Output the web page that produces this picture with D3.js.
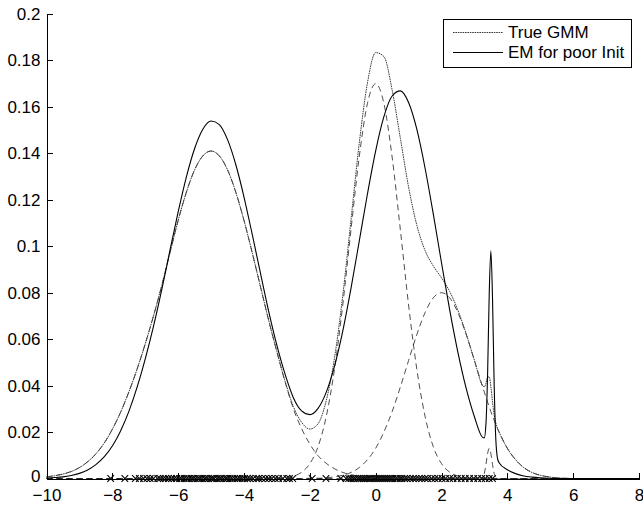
<!DOCTYPE html>
<html>
<head>
<meta charset="utf-8">
<script src="https://cdn.jsdelivr.net/npm/d3@7"></script>
<style>
  html, body { margin: 0; padding: 0; background: #fff; }
  svg { display: block; font-family: "Liberation Sans", Arial, Helvetica, sans-serif; }
  .axis path, .axis line { stroke: #000; stroke-width: 1; shape-rendering: crispEdges; }
  .axis text { font-size: 17px; fill: #000; }
</style>
</head>
<body>
<svg id="chart" width="643" height="505"></svg>
<script>
// shared x grid (rows of 10)
var xGrid = [
  -10, -9.75, -9.5, -9.25, -9, -8.75, -8.5, -8.25, -8, -7.75,
  -7.5, -7.25, -7, -6.75, -6.5, -6.25, -6, -5.75, -5.5, -5.25,
  -5, -4.75, -4.5, -4.25, -4, -3.75, -3.5, -3.25, -3, -2.75,
  -2.5, -2.25, -2, -1.75, -1.5, -1.25, -1, -0.75, -0.5, -0.25,
  0, 0.25, 0.5, 0.75, 1, 1.25, 1.5, 1.75, 2, 2.25,
  2.5, 2.75, 3, 3.25, 3.3, 3.35, 3.4, 3.45, 3.5, 3.55,
  3.6, 3.65, 3.7, 3.75, 4, 4.25, 4.5, 4.75, 5, 5.25,
  5.5, 5.75, 6, 6.25, 6.5, 6.75, 7, 7.25, 7.5, 7.75,
  8
];

// true GMM density
var trueGmm = [
  .0007, .0012, .0019, .0030, .0047, .0072, .0106, .0152, .0212, .0285,
  .0372, .0470, .0580, .0700, .0830, .0972, .1111, .1233, .1329, .1389,
  .1410, .1389, .1329, .1233, .1111, .0972, .0826, .0681, .0546, .0418,
  .0310, .0242, .0213, .0236, .0336, .0520, .0787, .1113, .1442, .1703,
  .1834, .1817, .1673, .1465, .1255, .1091, .0982, .0915, .0864, .0805,
  .0724, .0623, .0509, .0400, .0394, .0410, .0436, .0438, .0395, .0329,
  .0273, .0239, .0216, .0200, .0130, .0081, .0047, .0026, .0014, .0007,
  .0003, .0001, 0, 0, 0, 0, 0, 0, 0, 0,
  0
];

// EM fit from the poor initialisation
var emGmm = [
  .0002, .0004, .0007, .0013, .0022, .0037, .0060, .0093, .0140, .0205,
  .0288, .0392, .0515, .0655, .0812, .0982, .1148, .1299, .1421, .1504,
  .1539, .1524, .1459, .1352, .1212, .1051, .0884, .0720, .0573, .0448,
  .0348, .0291, .0275, .0302, .0372, .0484, .0635, .0819, .1021, .1225,
  .1411, .1558, .1647, .1669, .1619, .1504, .1337, .1139, .0929, .0725,
  .0542, .0388, .0266, .0177, .0175, .0234, .0447, .0796, .0980, .0775,
  .0404, .0169, .0088, .0068, .0038, .0021, .0011, .0006, .0003, .0001,
  0, 0, 0, 0, 0, 0, 0, 0, 0, 0,
  0
];

// weighted components of the true GMM (dashed)
var compA = [
  .0007, .0012, .0019, .0030, .0047, .0072, .0106, .0152, .0212, .0285,
  .0372, .0470, .0580, .0700, .0830, .0972, .1111, .1233, .1329, .1389,
  .1410, .1389, .1329, .1233, .1111, .0972, .0826, .0681, .0545, .0415,
  .0300, .0215, .0148, .0098, .0065, .0042, .0026, .0016, .0010, .0006,
  .0004, .0002, .0001, 0, 0, 0, 0, 0, 0, 0,
  0, 0, 0, 0, 0, 0, 0, 0, 0, 0,
  0, 0, 0, 0, 0, 0, 0, 0, 0, 0,
  0, 0, 0, 0, 0, 0, 0, 0, 0, 0,
  0
];
var compB = [
  0, 0, 0, 0, 0, 0, 0, 0, 0, 0,
  0, 0, 0, 0, 0, 0, 0, 0, 0, 0,
  0, 0, 0, 0, 0, 0, 0, 0, .0001, .0003,
  .0010, .0027, .0064, .0137, .0268, .0471, .0747, .1071, .1384, .1615,
  .1700, .1615, .1384, .1071, .0747, .0471, .0268, .0137, .0064, .0027,
  .0010, .0003, .0001, 0, 0, 0, 0, 0, 0, 0,
  0, 0, 0, 0, 0, 0, 0, 0, 0, 0,
  0, 0, 0, 0, 0, 0, 0, 0, 0, 0,
  0
];
var compC = [
  0, 0, 0, 0, 0, 0, 0, 0, 0, 0,
  0, 0, 0, 0, 0, 0, 0, 0, 0, 0,
  0, 0, 0, 0, 0, 0, 0, 0, 0, 0,
  0, 0, .0001, .0001, .0003, .0007, .0014, .0026, .0047, .0081,
  .0130, .0200, .0288, .0394, .0508, .0620, .0714, .0778, .0800, .0778,
  .0714, .0620, .0508, .0394, .0372, .0350, .0329, .0308, .0288, .0269,
  .0251, .0233, .0216, .0200, .0130, .0081, .0047, .0026, .0014, .0007,
  .0003, .0001, 0, 0, 0, 0, 0, 0, 0, 0,
  0
];
var compD = [
  0, 0, 0, 0, 0, 0, 0, 0, 0, 0,
  0, 0, 0, 0, 0, 0, 0, 0, 0, 0,
  0, 0, 0, 0, 0, 0, 0, 0, 0, 0,
  0, 0, 0, 0, 0, 0, 0, 0, 0, 0,
  0, 0, 0, 0, 0, 0, 0, 0, 0, 0,
  0, 0, 0, .0006, .0022, .0060, .0107, .0130, .0107, .0060,
  .0022, .0006, 0, 0, 0, 0, 0, 0, 0, 0,
  0, 0, 0, 0, 0, 0, 0, 0, 0, 0,
  0
];

// observed data points (x markers on the axis)
var obsX = [
  -8.05, -7.62, -7.3, -7.18, -7.05, -6.95, -6.85, -6.75, -6.62, -6.55,
  -6.45, -6.38, -6.3, -6.2, -6.12, -6.05, -5.95, -5.9, -5.82, -5.75,
  -5.68, -5.6, -5.55, -5.48, -5.4, -5.35, -5.28, -5.2, -5.15, -5.08,
  -5.0, -4.95, -4.9, -4.82, -4.75, -4.7, -4.62, -4.55, -4.5, -4.42,
  -4.35, -4.28, -4.2, -4.12, -4.05, -3.98, -3.9, -3.82, -3.72, -3.62,
  -3.55, -3.45, -3.35, -3.25, -3.15, -3.05, -2.95, -2.82, -2.7, -2.62,
  -2.52, -1.93, -1.51, -1.06, -0.9, -0.82, -0.75, -0.68, -0.62, -0.55,
  -0.5, -0.44, -0.38, -0.32, -0.26, -0.2, -0.15, -0.08, -0.02, 0.04,
  0.1, 0.16, 0.22, 0.28, 0.34, 0.4, 0.46, 0.52, 0.6, 0.66,
  0.74, 0.8, 0.88, 0.95, 1.05, 1.14, 1.22, 1.32, 1.4, 1.5,
  1.58, 1.7, 1.8, 1.9, 2.02, 2.12, 2.25, 2.35, 2.48, 2.6,
  2.72, 2.85, 2.98, 3.1, 3.22, 3.33, 3.45, 3.55
];

var xTicks = [-10, -8, -6, -4, -2, 0, 2, 4, 6, 8];
var xTickLabels = ['\u221210', '\u22128', '\u22126', '\u22124', '\u22122', '0', '2', '4', '6', '8'];
var yTicks = [0, 0.02, 0.04, 0.06, 0.08, 0.1, 0.12, 0.14, 0.16, 0.18, 0.2];
var yTickLabels = ['0', '0.02', '0.04', '0.06', '0.08', '0.1', '0.12', '0.14', '0.16', '0.18', '0.2'];
var legendLabels = ['True GMM', 'EM for poor Init'];

var
  svg = d3.select('#chart'),
  xScale = d3.scaleLinear().domain([-10, 8]).range([46.5, 639]),
  yScale = d3.scaleLinear().domain([0, 0.2]).range([478.5, 14])
  ;

function series(vals){
  return vals.map(function(v, i){ return [xGrid[i], v]; });
}

var line = d3.line()
  .x(function(d){ return xScale(d[0]); })
  .y(function(d){ return yScale(d[1]); })
  .curve(d3.curveMonotoneX);

var styles = {
  comp: {stroke: '#222', width: 0.8, dash: '6,4'},
  truth: {stroke: '#3a3a3a', width: 1, dash: '1.6,0.8'},
  em: {stroke: '#000', width: 1.1, dash: null}
};

// data markers
var mk = svg.append('g').attr('class', 'markers');
mk.selectAll('path')
  .data(obsX)
  .enter().append('path')
  .attr('d', function(d){
    var cx = xScale(d), cy = yScale(0), r = 3.3;
    return 'M' + (cx - r) + ',' + (cy - r) + 'L' + (cx + r) + ',' + (cy + r) +
           'M' + (cx - r) + ',' + (cy + r) + 'L' + (cx + r) + ',' + (cy - r);
  })
  .attr('stroke', '#000')
  .attr('stroke-width', 1.1)
  .attr('fill', 'none');

// dashed components
svg.append('g').attr('class', 'components')
  .selectAll('path')
  .data([compA, compB, compC, compD])
  .enter().append('path')
  .attr('d', function(d){ return line(series(d)); })
  .attr('fill', 'none')
  .attr('stroke', styles.comp.stroke)
  .attr('stroke-width', styles.comp.width)
  .attr('stroke-dasharray', styles.comp.dash);

svg.append('path')
  .attr('d', line(series(trueGmm)))
  .attr('fill', 'none')
  .attr('stroke', styles.truth.stroke)
  .attr('stroke-width', styles.truth.width)
  .attr('stroke-dasharray', styles.truth.dash);

svg.append('path')
  .attr('d', line(series(emGmm)))
  .attr('fill', 'none')
  .attr('stroke', styles.em.stroke)
  .attr('stroke-width', styles.em.width);

// axes (ticks pointing inward, no box)
var yAxis = svg.append('g')
  .attr('class', 'axis axis--y')
  .attr('transform', 'translate(' + xScale(-10) + ',0)')
  .call(d3.axisLeft(yScale)
    .tickValues(yTicks)
    .tickFormat(function(d, i){ return yTickLabels[i]; })
    .tickSizeInner(-6)
    .tickSizeOuter(0)
    .tickPadding(6));

// lift the "0" label a touch so it clears the -10 below it
yAxis.selectAll('.tick text')
  .filter(function(d){ return d === 0; })
  .attr('dy', '0.2em');

svg.append('g')
  .attr('class', 'axis axis--x')
  .attr('transform', 'translate(0,' + yScale(0) + ')')
  .call(d3.axisBottom(xScale)
    .tickValues(xTicks)
    .tickFormat(function(d, i){ return xTickLabels[i]; })
    .tickSizeInner(-6)
    .tickSizeOuter(0)
    .tickPadding(10));

// legend
var lg = svg.append('g').attr('class', 'legend');
lg.append('rect')
  .attr('x', 443.5).attr('y', 19.5)
  .attr('width', 188).attr('height', 48)
  .attr('fill', '#fff')
  .attr('stroke', '#000')
  .attr('stroke-width', 1);

var items = lg.selectAll('g.item')
  .data(legendLabels)
  .enter().append('g')
  .attr('class', 'item')
  .attr('transform', function(d, i){ return 'translate(0,' + (32 + i * 20) + ')'; });

items.append('line')
  .attr('x1', 453).attr('x2', 503)
  .attr('y1', 0.5).attr('y2', 0.5)
  .attr('stroke', function(d, i){ return i === 0 ? styles.truth.stroke : styles.em.stroke; })
  .attr('stroke-width', 1)
  .attr('stroke-dasharray', function(d, i){ return i === 0 ? styles.truth.dash : null; });

items.append('text')
  .attr('x', 508)
  .attr('y', 6)
  .attr('font-size', 17)
  .text(function(d){ return d; });
</script>
</body>
</html>
